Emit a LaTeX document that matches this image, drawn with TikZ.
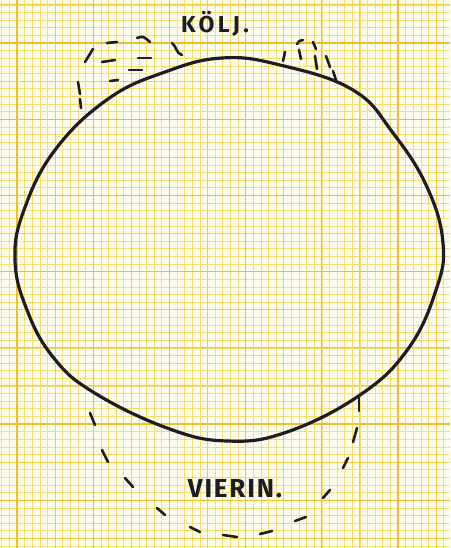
\documentclass[tikz,border=0pt]{standalone}
\usepackage{fontspec}
\usepackage{tikz}
\usetikzlibrary{positioning}
\newfontfamily\handfont[LetterSpace=15]{Fira Sans}
\newfontfamily\handfontb[LetterSpace=7]{Fira Sans}
\definecolor{paper}{RGB}{255, 253, 238}
\definecolor{gridfine}{RGB}{248, 222, 112}
\definecolor{gridmid}{RGB}{245, 206, 70}
\definecolor{gridmajor}{RGB}{242, 192, 44}
\definecolor{ink}{RGB}{28, 28, 34}

\begin{document}
\begin{tikzpicture}[x=1pt, y=-1pt,
    outline/.style={draw=ink, line width=3.2pt, line join=round},
    dashstroke/.style={draw=ink, line width=2.6pt, line cap=round},
    label/.style={text=ink, inner sep=0pt}]
    \useasboundingbox (0,0) rectangle (450,548);
    \fill[paper] (0,0) rectangle (450,548);
    % graph paper
    \foreach \i in {0,...,58} \draw[gridfine, line width=0.6pt] ({1.76+7.62*\i},0) -- ++(0,548);
    \foreach \i in {0,...,71} \draw[gridfine, line width=0.6pt] (0,{4.9+7.62*\i}) -- ++(450,0);
    \foreach \i in {0,...,11} \draw[gridmid, line width=0.9pt] ({17+38.1*\i},0) -- ++(0,548);
    \foreach \i in {0,...,14} \draw[gridmid, line width=0.9pt] (0,{4.9+38.1*\i}) -- ++(450,0);
    \foreach \i in {0,...,5} \draw[gridmajor, line width=1.3pt] ({17+76.2*\i},0) -- ++(0,548);
    \foreach \i in {0,...,6} \draw[gridmajor, line width=1.3pt] (0,{43+76.2*\i}) -- ++(450,0);

    % the hull
    \draw[outline] plot[smooth cycle, tension=0.7] coordinates {
        (222,58) (280,65) (353,90) (393,133) (427,187) (443,243) (436,290)
        (408,349) (360,395) (287,432) (227,441) (167,428) (93,392) (53,357)
        (27,310) (15,260) (24,210) (55,150) (108,99) (165,72)};

    % dashed bumps at the top
    \foreach \xa/\ya/\xb/\yb in {78/82/80/94, 80/99/81/108, 85/62/93/49,
        107/43/117/42, 102/62/115/60, 138/58/151/58, 129/70/142/70,
        110/81/118/80, 283/61/285/52, 299/50/301/59, 313/42/316/49,
        315/56/317/69, 326/56/330/67, 333/71/336/80}
        \draw[dashstroke] (\xa,\ya) -- (\xb,\yb);
    \draw[dashstroke] (137,38) .. controls (143,36) .. (150,42);
    \draw[dashstroke] (172,43) .. controls (177,47) and (175,52) .. (182,55);
    \draw[dashstroke] (297,44) .. controls (299,41) .. (303,40);

    % dashed keel line below
    \foreach \xa/\ya/\xb/\yb in {90/413/95/425, 102/450/108/462,
        125/478/133/487, 157/508/165/515, 190/527/200/532, 223/535/237/537,
        260/534/272/531, 295/521/306/517, 323/498/330/490, 343/468/348/458,
        353/442/357/428, 359/411/359/398}
        \draw[dashstroke] (\xa,\ya) -- (\xb,\yb);

    \node[label, font=\handfont\bfseries\fontsize{23}{23}\selectfont] (kolj) at (215,24) {KÖLJ.};
    \node[label, font=\handfontb\bfseries\fontsize{26}{26}\selectfont] (vierin) at (235,489) {VIERIN.};
\end{tikzpicture}
\end{document}
